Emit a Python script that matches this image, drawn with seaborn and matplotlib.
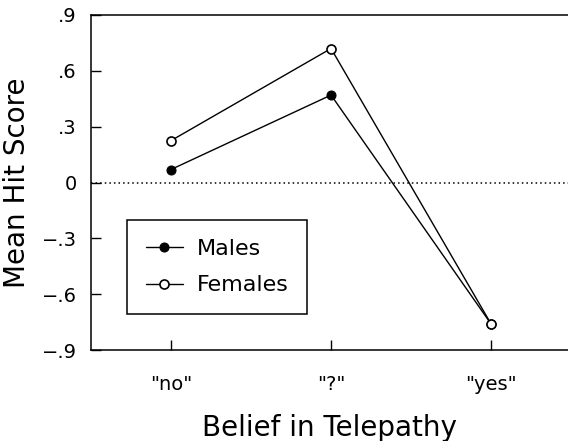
import pandas as pd
import matplotlib.pyplot as plt
import seaborn as sns

belief = ['"no"', '"?"', '"yes"']
males = [0.07, 0.47, -0.76]
females = [0.225, 0.72, -0.76]
yticks = [0.9, 0.6, 0.3, 0.0, -0.3, -0.6, -0.9]
ytick_labels = ['.9', '.6', '.3', '0', '\u2212.3', '\u2212.6', '\u2212.9']

df = pd.DataFrame({'Belief': belief * 2,
                   'Score': males + females,
                   'Sex': ['Males'] * 3 + ['Females'] * 3})

sns.set_style('ticks')
plt.rcParams['font.family'] = ['DejaVu Sans']
plt.rcParams['text.color'] = 'black'
plt.rcParams['axes.labelcolor'] = 'black'
plt.rcParams['xtick.color'] = 'black'
plt.rcParams['ytick.color'] = 'black'

fig = plt.figure(figsize=(5.68, 4.41), dpi=100)
ax = fig.add_axes([0.160, 0.206, 0.840, 0.760])

ax.axhline(0, color='black', linestyle=(0, (1, 2)), linewidth=1.1, zorder=1)

sns.lineplot(data=df[df.Sex == 'Males'], x='Belief', y='Score', ax=ax,
             color='black', linewidth=1, marker='o', markersize=6.5,
             markerfacecolor='black', markeredgecolor='black', label='Males')
sns.lineplot(data=df[df.Sex == 'Females'], x='Belief', y='Score', ax=ax,
             color='black', linewidth=1, marker='o', markersize=6.5,
             markerfacecolor='white', markeredgecolor='black',
             markeredgewidth=1.2, label='Females')

ax.set_xlim(-0.5, 2.48)
ax.set_ylim(-0.9, 0.9)
ax.set_yticks(yticks)
ax.set_yticklabels(ytick_labels)
ax.tick_params(direction='in', length=7, width=1, labelsize=14)
ax.tick_params(axis='y', pad=10)
ax.tick_params(axis='x', pad=18)
ax.set_xlabel('Belief in Telepathy', fontsize=20, labelpad=14)
ax.set_ylabel('Mean Hit Score', fontsize=20, labelpad=8)

for side in ['left', 'bottom', 'top']:
    ax.spines[side].set_linewidth(1.1)
    ax.spines[side].set_color('black')
ax.spines['right'].set_visible(False)

leg = ax.legend(loc='lower left', bbox_to_anchor=(0.075, 0.107), borderaxespad=0,
                fontsize=16, handlelength=1.7, handletextpad=0.6, fancybox=False,
                edgecolor='black', framealpha=1, borderpad=0.85, labelspacing=0.75)
leg.get_frame().set_linewidth(1.1)

fig.savefig('out.png', dpi=100)
